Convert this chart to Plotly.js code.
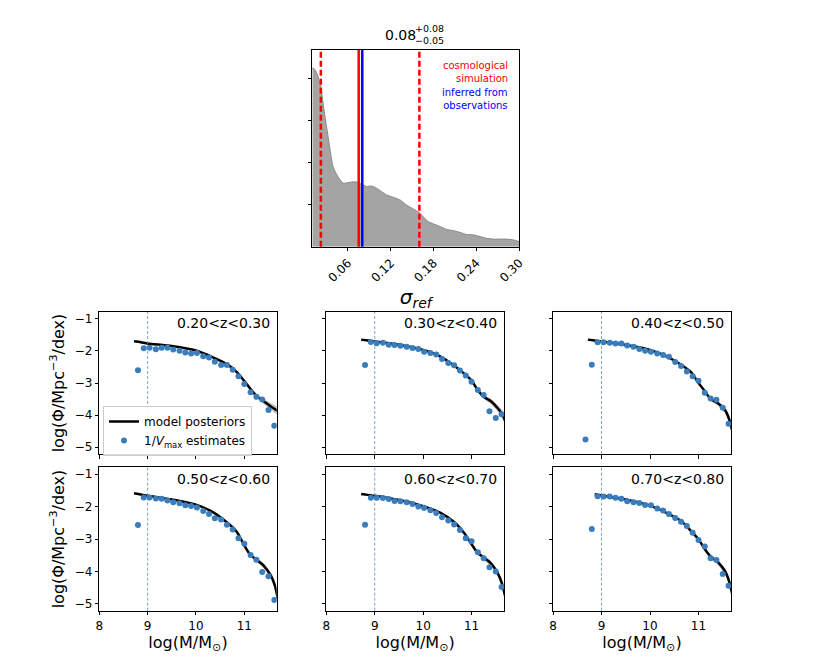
<!DOCTYPE html>
<html><head><meta charset="utf-8">
<script src="https://cdn.plot.ly/plotly-3.0.1.min.js"></script>
<style>html,body{margin:0;padding:0;background:#fff}</style>
</head><body><div id="chart" style="width:830px;height:664px"></div>
<script>
// ---- top panel: posterior of sigma_ref ----
const sigmaGrid = [0.010,0.014,0.018,0.022,0.025,0.030,0.035,0.039,0.046,0.053,0.060,0.067,0.074,0.081,0.086,0.093,0.100,0.107,0.114,0.124,0.133,0.142,0.152,0.160,0.166,0.173,0.180,0.189,0.198,0.208,0.217,0.226,0.236,0.245,0.254,0.264,0.273,0.282,0.292,0.300];
const sigmaDensity = [4.25,4.20,4.04,3.80,3.41,2.85,2.30,1.90,1.66,1.51,1.52,1.54,1.53,1.47,1.43,1.44,1.39,1.31,1.23,1.17,1.11,0.99,0.89,0.81,0.70,0.59,0.54,0.48,0.41,0.38,0.34,0.29,0.28,0.24,0.20,0.18,0.18,0.18,0.16,0.12];
const sigmaLow = 0.022, sigmaHigh = 0.160, sigmaSim = 0.075, sigmaObs = 0.080;
const sigmaTicks = [0.06,0.12,0.18,0.24,0.30];

// ---- stellar mass function panels ----
const zLabels = ['0.20&lt;z&lt;0.30','0.30&lt;z&lt;0.40','0.40&lt;z&lt;0.50','0.50&lt;z&lt;0.60','0.60&lt;z&lt;0.70','0.70&lt;z&lt;0.80'];
const massBins = [8.67,8.80,8.92,9.04,9.17,9.29,9.41,9.53,9.66,9.78,9.90,10.02,10.15,10.27,10.39,10.52,10.64,10.76,10.88,11.00,11.13,11.25,11.37,11.50,11.62];
const vmax1 = [null,-2.60,-1.92,-1.90,-1.95,-1.90,-1.90,-1.96,-2.00,-2.05,-2.08,-2.07,-2.17,-2.21,-2.34,-2.44,-2.44,-2.59,-2.79,-3.03,-3.29,-3.43,-3.51,-3.84,-4.33];
const vmax2 = [null,-2.44,-1.72,-1.76,-1.75,-1.81,-1.82,-1.84,-1.87,-1.91,-1.94,-2.03,-2.07,-2.11,-2.25,-2.38,-2.45,-2.61,-2.77,-2.96,-3.22,-3.37,-3.88,-4.09,-3.97];
const vmax3 = [-4.76,-2.43,-1.73,-1.73,-1.75,-1.77,-1.77,-1.83,-1.87,-1.94,-2.00,-2.03,-2.08,-2.13,-2.18,-2.35,-2.47,-2.64,-2.79,-2.93,-3.30,-3.48,-3.52,-3.77,-4.27];
const vmax4 = [null,-2.57,-1.72,-1.72,-1.75,-1.76,-1.81,-1.87,-1.90,-1.96,-1.98,-2.03,-2.14,-2.23,-2.36,-2.40,-2.56,-2.71,-2.98,-3.15,-3.49,-3.64,-4.02,-4.15,-4.88];
const vmax5 = [null,-2.56,-1.73,-1.73,-1.74,-1.77,-1.83,-1.84,-1.87,-1.92,-2.00,-2.04,-2.11,-2.20,-2.33,-2.43,-2.55,-2.72,-2.98,-3.07,-3.41,-3.59,-3.87,-4.00,-4.48];
const vmax6 = [null,-2.69,-1.68,-1.69,-1.69,-1.73,-1.76,-1.84,-1.87,-1.89,-1.95,-1.96,-2.06,-2.12,-2.23,-2.35,-2.47,-2.60,-2.81,-3.03,-3.23,-3.59,-3.65,-4.08,-4.44];

const modelMass = [8.72,8.86,9.0,9.5,10.0,10.35,10.65,10.85,11.0,11.12,11.25,11.4,11.55,11.63,11.7];
const model1 = [-1.70,-1.73,-1.77,-1.85,-1.99,-2.20,-2.42,-2.67,-2.94,-3.17,-3.40,-3.57,-3.73,-3.81,-3.88];
const model2 = [-1.65,-1.68,-1.71,-1.81,-1.97,-2.17,-2.47,-2.71,-2.92,-3.20,-3.43,-3.57,-3.80,-3.96,-4.20];
const model3 = [-1.65,-1.68,-1.71,-1.82,-1.97,-2.18,-2.44,-2.67,-3.00,-3.23,-3.50,-3.63,-3.85,-4.12,-4.50];
const model4 = [-1.59,-1.63,-1.67,-1.78,-1.94,-2.17,-2.50,-2.79,-3.20,-3.48,-3.64,-3.82,-4.13,-4.42,-4.90];
const model5 = [-1.61,-1.64,-1.67,-1.80,-1.99,-2.19,-2.49,-2.82,-3.16,-3.42,-3.57,-3.75,-4.08,-4.38,-4.80];
const model6 = [null,-1.62,-1.66,-1.78,-1.97,-2.20,-2.45,-2.76,-3.01,-3.29,-3.54,-3.71,-4.00,-4.30,-4.72];
const modelSpread = [0.03,0.03,0.02,0.02,0.02,0.02,0.02,0.03,0.03,0.04,0.06,0.08,0.10,0.12,0.14];
const massLimit = 9;
const massTicks = [8,9,10,11];
const phiTicks = [-1,-2,-3,-4,-5];

const vmaxAll = [vmax1,vmax2,vmax3,vmax4,vmax5,vmax6];
const modelAll = [model1,model2,model3,model4,model5,model6];

// ---- geometry ----
const W = 830, H = 664;
const px = v => v / W, py = v => 1 - v / H;
const colDom = [[px(99.3),px(276.7)],[px(326.3),px(504)],[px(553),px(731)]];
const rowDom = [[py(454),py(312)],[py(610.7),py(467.3)]];
const FONT = 'DejaVu Sans';
const dotColor = '#3a7dbd';

const baseAxis = {showline:true, mirror:true, linecolor:'#000', linewidth:1, ticks:'outside', ticklen:3.5, tickwidth:1, tickcolor:'#000', showgrid:false, zeroline:false, tickfont:{family:FONT,size:12,color:'#000'}, fixedrange:true};

const traces = [];
traces.push({x:sigmaGrid, y:sigmaDensity, type:'scatter', mode:'lines', fill:'tozeroy', fillcolor:'#a4a4a4', line:{color:'#888', width:1, shape:'spline', smoothing:0.6}, xaxis:'x', yaxis:'y', showlegend:false, hoverinfo:'skip'});

const layout = {
  width:W, height:H, margin:{l:0,r:0,t:0,b:0}, paper_bgcolor:'#fff', plot_bgcolor:'#fff',
  font:{family:FONT, color:'#000'},
  showlegend:true,
  legend:{x:px(103), y:py(406), xanchor:'left', yanchor:'top', bgcolor:'rgba(255,255,255,0.85)', bordercolor:'#cccccc', borderwidth:1, font:{family:FONT,size:12,color:'#000'}, tracegroupgap:0, itemwidth:30},
  xaxis:Object.assign({}, baseAxis, {domain:[px(312.3),px(519.3)], range:[0.01,0.30], tickvals:sigmaTicks, tickformat:'.2f', tickangle:-45, anchor:'y',
    title:{text:'<i>σ<sub>ref</sub></i>', font:{family:FONT,size:20,color:'#000'}, standoff:3}}),
  yaxis:Object.assign({}, baseAxis, {domain:[py(246.7),py(50)], range:[0,4.67], tickvals:[1,2,3,4], showticklabels:false, anchor:'x'}),
  shapes:[], annotations:[]
};

// sigma lines
[[sigmaLow,'#ff0000','6px,3px'],[sigmaHigh,'#ff0000','6px,3px'],[sigmaSim,'#ff0000','solid'],[sigmaObs,'#0000ff','solid']].forEach(([v,c,d]) => {
  layout.shapes.push({type:'line', xref:'x', yref:'y domain', x0:v, x1:v, y0:0, y1:1, line:{color:c, width:2.5, dash:d}});
});

// title of top panel: 0.08 (+0.08 / -0.05)
layout.annotations.push({xref:'paper', yref:'paper', x:px(417), y:py(35), xanchor:'right', yanchor:'middle', text:'0.08', showarrow:false, borderpad:0, font:{family:FONT,size:14,color:'#000'}});
layout.annotations.push({xref:'paper', yref:'paper', x:px(413.5), y:py(29), xanchor:'left', yanchor:'middle', text:'+0.08', showarrow:false, borderpad:0, font:{family:FONT,size:9.5,color:'#000'}});
layout.annotations.push({xref:'paper', yref:'paper', x:px(413.5), y:py(40.5), xanchor:'left', yanchor:'middle', text:'−0.05', showarrow:false, borderpad:0, font:{family:FONT,size:9.5,color:'#000'}});
layout.annotations.push({xref:'paper', yref:'paper', x:px(509.5), y:py(72), xanchor:'right', yanchor:'middle', align:'right', text:'cosmological<br>simulation', showarrow:false, font:{family:FONT,size:10,color:'#ff0000'}});
layout.annotations.push({xref:'paper', yref:'paper', x:px(509.5), y:py(99), xanchor:'right', yanchor:'middle', align:'right', text:'inferred from<br>observations', showarrow:false, font:{family:FONT,size:10,color:'#0000ff'}});

for (let i = 0; i < 6; i++) {
  const n = i + 2, col = i % 3, row = Math.floor(i / 3);
  const xa = 'x' + n, ya = 'y' + n;
  const model = modelAll[i];
  const mx = [], my = [], up = [], lo = [];
  model.forEach((v, k) => { if (v !== null) { mx.push(modelMass[k]); my.push(v); up.push(v + modelSpread[k]); lo.push(v - modelSpread[k]); } });
  traces.push({x:mx.concat(mx.slice().reverse()), y:up.concat(lo.slice().reverse()), type:'scatter', mode:'lines', fill:'toself', fillcolor:'rgba(120,120,120,0.45)', line:{width:0}, xaxis:xa, yaxis:ya, showlegend:false, hoverinfo:'skip'});
  traces.push({x:mx, y:my, type:'scatter', mode:'lines', line:{color:'#000', width:2.5, shape:'spline', smoothing:0.7}, xaxis:xa, yaxis:ya, name:'model posteriors', showlegend:i===0, legendrank:1});
  traces.push({x:massBins, y:vmaxAll[i], type:'scatter', mode:'markers', marker:{color:dotColor, size:6}, xaxis:xa, yaxis:ya, name:'1/<i>V</i><sub>max</sub> estimates', showlegend:i===0, legendrank:2});

  layout['xaxis' + n] = Object.assign({}, baseAxis, {domain:colDom[col], range:[8,11.67], tickvals:massTicks, showticklabels:row===1, anchor:ya,
    title: row===1 ? {text:'log(M/M<sub>⊙</sub>)', font:{family:FONT,size:16,color:'#000'}, standoff:3} : undefined});
  layout['yaxis' + n] = Object.assign({}, baseAxis, {domain:rowDom[row], range:[-5.21,-0.79], tickvals:phiTicks, showticklabels:col===0, anchor:xa,
    title: col===0 ? {text:'log(Φ/Mpc<sup>−3</sup>/dex)', font:{family:FONT,size:16,color:'#000'}, standoff:6} : undefined});

  layout.shapes.push({type:'line', xref:xa, yref:ya + ' domain', x0:massLimit, x1:massLimit, y0:0, y1:1, line:{color:'#5b8cc6', width:0.8, dash:'3px,2px'}});
  layout.annotations.push({xref:xa + ' domain', yref:ya + ' domain', x:0.972, y:0.92, xanchor:'right', yanchor:'middle', text:zLabels[i], showarrow:false, font:{family:FONT,size:14,color:'#000'}});
}

Plotly.newPlot('chart', traces, layout, {staticPlot:true, displayModeBar:false});
</script></body></html>
